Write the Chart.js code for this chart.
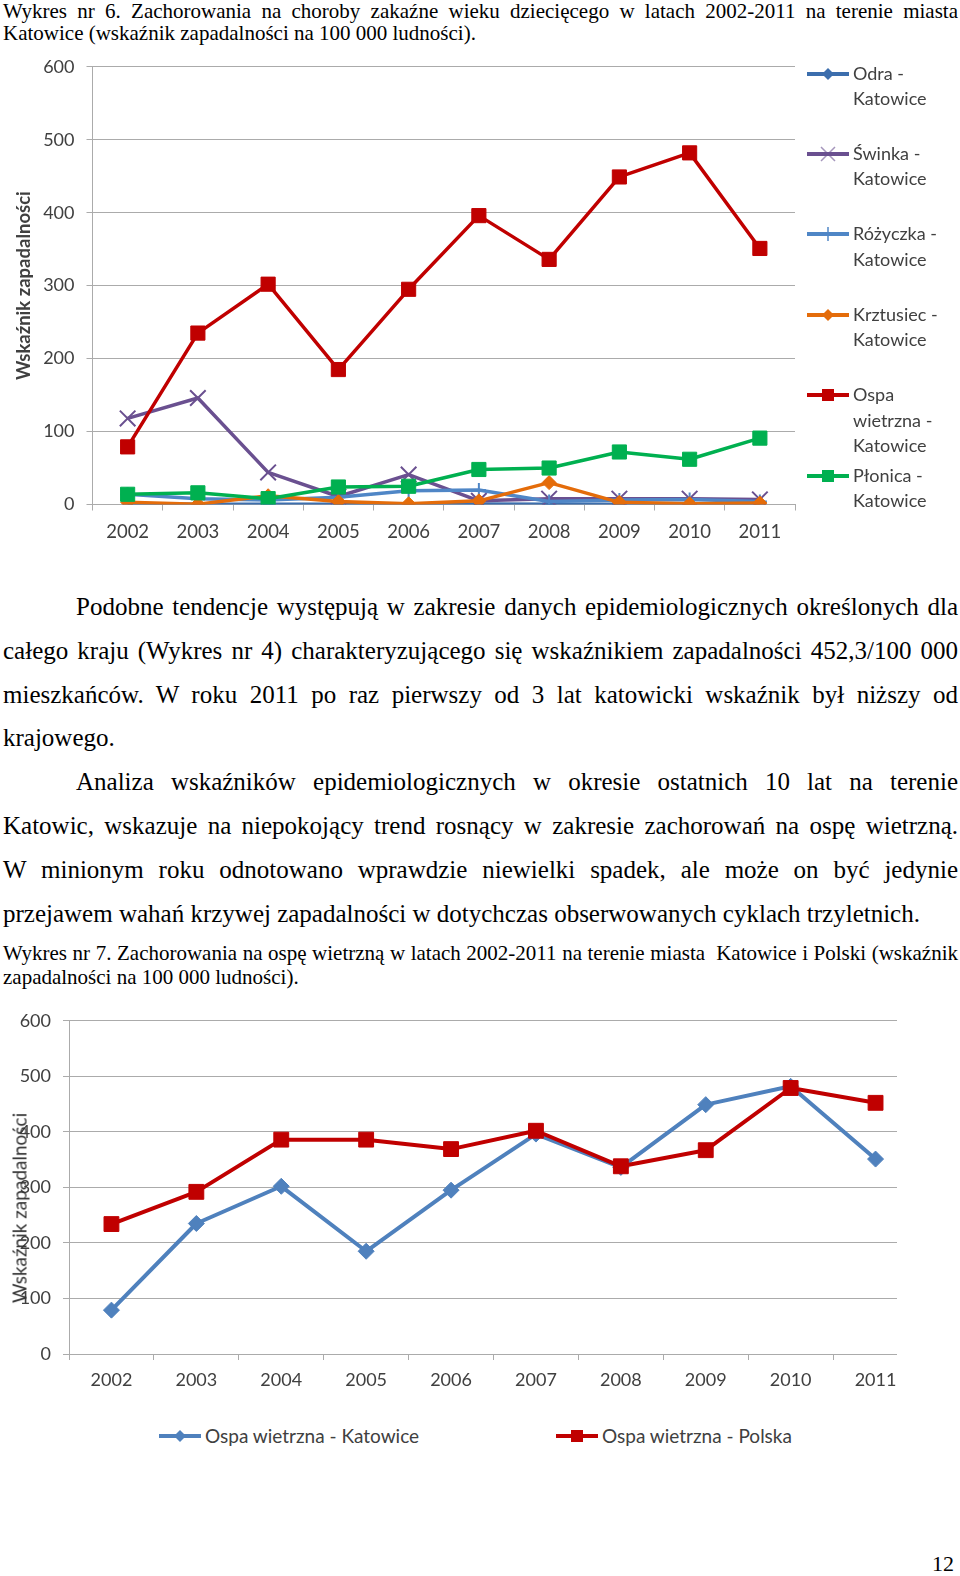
<!DOCTYPE html>
<html lang="pl">
<head>
<meta charset="utf-8">
<script src="https://cdn.jsdelivr.net/npm/chart.js@4.4.1/dist/chart.umd.min.js"></script>
<style>
  body { margin: 0; background: #fff; width: 960px; height: 1576px; position: relative; overflow: hidden; }
  .serif { font-family: "Liberation Serif", "Times New Roman", serif; color: #000; position: absolute; left: 3px; width: 955px; }
  .serif div { text-align: justify; text-align-last: justify; white-space: nowrap; }
  .serif div.last { text-align-last: left; }
  .serif div.ind { padding-left: 73px; }
  .cap1 { top: 0px; font-size: 21px; line-height: 22px; }
  .cap2 { top: 941px; font-size: 21px; line-height: 24px; }
  .body { top: 585px; font-size: 25px; line-height: 43.8px; }
  .pnum { left: 932px; width: auto; top: 1551px; font-size: 22px; }
  .legend-item { position: absolute; display: flex; align-items: flex-start; font-family: Lato, "Noto Sans", sans-serif; font-size: 18px; line-height: 25.6px; color: #404040; }
  .legend-item svg { flex: none; margin-top: 7px; margin-right: 4px; }
  .ytitle2 { position: absolute; font-family: Lato, "Noto Sans", sans-serif; font-size: 19px; color: #333; white-space: nowrap; transform: translate(-50%, -50%) rotate(-90deg); }
</style>
</head>
<body>

<div class="serif cap1">
  <div>Wykres nr 6. Zachorowania na choroby zakaźne wieku dziecięcego w latach 2002-2011 na terenie miasta</div>
  <div class="last">Katowice (wskaźnik zapadalności na 100 000 ludności).</div>
</div>

<div style="position:absolute;left:0;top:44px;width:808px;height:506px;">
  <canvas id="chart1" width="808" height="506"></canvas>
</div>
<div id="legend1"></div>

<div class="serif body">
  <div class="ind">Podobne tendencje występują w zakresie danych epidemiologicznych określonych dla</div>
  <div>całego kraju (Wykres nr 4) charakteryzującego się wskaźnikiem zapadalności 452,3/100 000</div>
  <div>mieszkańców. W roku 2011 po raz pierwszy od 3 lat katowicki wskaźnik był niższy od</div>
  <div class="last">krajowego.</div>
  <div class="ind">Analiza wskaźników epidemiologicznych w okresie ostatnich 10 lat na terenie</div>
  <div>Katowic, wskazuje na niepokojący trend rosnący w zakresie zachorowań na ospę wietrzną.</div>
  <div>W minionym roku odnotowano wprawdzie niewielki spadek, ale może on być jedynie</div>
  <div class="last">przejawem wahań krzywej zapadalności w dotychczas obserwowanych cyklach trzyletnich.</div>
</div>

<div class="serif cap2">
  <div>Wykres nr 7. Zachorowania na ospę wietrzną w latach 2002-2011 na terenie miasta&nbsp; Katowice i Polski (wskaźnik</div>
  <div class="last">zapadalności na 100 000 ludności).</div>
</div>

<div style="position:absolute;left:0;top:998px;width:897px;height:402px;overflow:hidden;">
  <canvas id="chart2" width="930" height="402"></canvas>
</div>
<div class="ytitle2" style="left:19px;top:1208px;">Wskaźnik zapadalności</div>
<div id="legend2"></div>

<div class="serif pnum">12</div>

<script>
// values (incidence per 100 000)
const years = ['2002', '2003', '2004', '2005', '2006', '2007', '2008', '2009', '2010', '2011'];
const odra = [0.6, 0.3, 0.3, 0.2, 0.3, 0.6, 0.3, 0.2, 0.3, 0.2];
const swinka = [118, 146, 44, 11, 41, 5, 8, 8, 8, 7];
const rozyczka = [14, 8, 6, 10, 19, 20, 4, 6, 7, 4];
const krztusiec = [3, 0.5, 12, 4, 1, 5, 30, 3, 1, 2];
const ospaKatowice = [79, 235, 302, 185, 295, 396, 336, 449, 482, 351];
const plonica = [14, 16, 8, 24, 25, 48, 50, 72, 62, 91];
const ospaPolska = [234, 292, 386, 386, 369, 402, 338, 367, 479, 452.3];
const yTicks = [0, 100, 200, 300, 400, 500, 600];

const font = 'Lato, "Noto Sans", sans-serif';
const tickColor = '#404040';
const gridColor = '#ABABAB';

function line(label, data, color, style, radius, extra) {
    return Object.assign({
        label: label,
        data: data,
        borderColor: color,
        backgroundColor: color,
        borderWidth: 3.5,
        borderJoinStyle: 'round',
        pointStyle: style,
        pointRadius: radius,
        pointBorderWidth: 1,
        tension: 0
    }, extra || {});
}

const series1 = [
    line('Odra - Katowice', odra, '#3C6EAD', 'rectRot', 5),
    line('Świnka - Katowice', swinka, '#6A5090', 'crossRot', 11, { pointBorderWidth: 2 }),
    line('Różyczka - Katowice', rozyczka, '#4F86C6', 'cross', 7, { pointBorderWidth: 2 }),
    line('Krztusiec - Katowice', krztusiec, '#E46C0A', 'rectRot', 7),
    line('Ospa wietrzna - Katowice', ospaKatowice, '#C00000', 'rect', 10),
    line('Płonica - Katowice', plonica, '#00B050', 'rect', 10)
];
// Excel draws later series on top
series1.forEach((d, i) => { d.order = series1.length - i; });

function yScale(width, tl, pad, title) {
    return {
        min: 0, max: 600,
        afterBuildTicks: s => { s.ticks = yTicks.map(v => ({ value: v })); },
        afterFit: s => { s.width = width; },
        ticks: { font: { family: font, size: 18 }, color: tickColor, padding: pad },
        grid: { color: gridColor, tickLength: tl },
        border: { color: gridColor },
        title: title || { display: false }
    };
}

function xScale(height, pad, size) {
    return {
        offset: true,
        afterFit: s => { s.height = height; },
        ticks: { font: { family: font, size: size }, color: tickColor, padding: pad, maxRotation: 0 },
        grid: { offset: true, drawOnChartArea: false, color: gridColor, tickLength: 6 },
        border: { color: gridColor }
    };
}

new Chart(document.getElementById('chart1').getContext('2d'), {
    type: 'line',
    data: { labels: years, datasets: series1 },
    options: {
        responsive: false,
        animation: false,
        layout: { padding: { top: 0, right: 6, left: 0, bottom: 0 } },
        plugins: { legend: { display: false }, tooltip: { enabled: false } },
        scales: {
            x: xScale(45.5, 10, 18.5),
            y: yScale(92.5, 6, 12, {
                display: true,
                text: 'Wskaźnik zapadalności',
                font: { family: font, size: 18.5, weight: 'bold' },
                color: '#404040',
                padding: { top: 13, bottom: 0 }
            })
        }
    }
});

const series2 = [
    line('Ospa wietrzna - Katowice', ospaKatowice, '#4F81BD', 'rectRot', 8, { borderWidth: 4 }),
    line('Ospa wietrzna - Polska', ospaPolska, '#C00000', 'rect', 10.5, { borderWidth: 4 })
];
series2.forEach((d, i) => { d.order = series2.length - i; });

new Chart(document.getElementById('chart2').getContext('2d'), {
    type: 'line',
    data: { labels: years, datasets: series2 },
    options: {
        responsive: false,
        animation: false,
        layout: { padding: { top: 0, right: 12, left: 0, bottom: 0 } },
        plugins: { legend: { display: false }, tooltip: { enabled: false } },
        scales: {
            x: xScale(46, 9, 18),
            y: yScale(69, 6, 12)
        }
    }
});

// legends: small line + marker icon, then the label
function icon(ds) {
    const c = ds.borderColor;
    let m = '';
    if (ds.pointStyle === 'rectRot') m = `<polygon points="21,0 27,6 21,12 15,6" fill="${c}"/>`;
    else if (ds.pointStyle === 'rect') m = `<rect x="15" y="0" width="12" height="12" fill="${c}"/>`;
    else if (ds.pointStyle === 'crossRot') m = `<path d="M14,-1 L28,13 M28,-1 L14,13" stroke="${c}" stroke-width="1.5" opacity="0.6"/>`;
    else if (ds.pointStyle === 'cross') m = `<path d="M21,-1 L21,13" stroke="${c}" stroke-width="1.5"/>`;
    return `<svg width="42" height="12" viewBox="0 0 42 12" overflow="visible"><line x1="0" y1="6" x2="42" y2="6" stroke="${c}" stroke-width="4"/>${m}</svg>`;
}

const legend1Lines = [['Odra -', 'Katowice'], ['Świnka -', 'Katowice'], ['Różyczka -', 'Katowice'],
    ['Krztusiec -', 'Katowice'], ['Ospa', 'wietrzna -', 'Katowice'], ['Płonica -', 'Katowice']];
const lg1 = document.getElementById('legend1');
series1.forEach((ds, i) => {
    const el = document.createElement('div');
    el.className = 'legend-item';
    el.style.left = '807px';
    el.style.top = (60.5 + i * 80.4) + 'px';
    el.innerHTML = icon(ds) + '<span>' + legend1Lines[i].join('<br>') + '</span>';
    lg1.appendChild(el);
});

const lg2 = document.getElementById('legend2');
const legend2Left = [159, 556];
series2.forEach((ds, i) => {
    const el = document.createElement('div');
    el.className = 'legend-item';
    el.style.left = legend2Left[i] + 'px';
    el.style.top = '1423px';
    el.style.fontSize = '19px';
    el.innerHTML = icon(ds) + '<span>' + ds.label + '</span>';
    lg2.appendChild(el);
});
</script>
</body>
</html>
